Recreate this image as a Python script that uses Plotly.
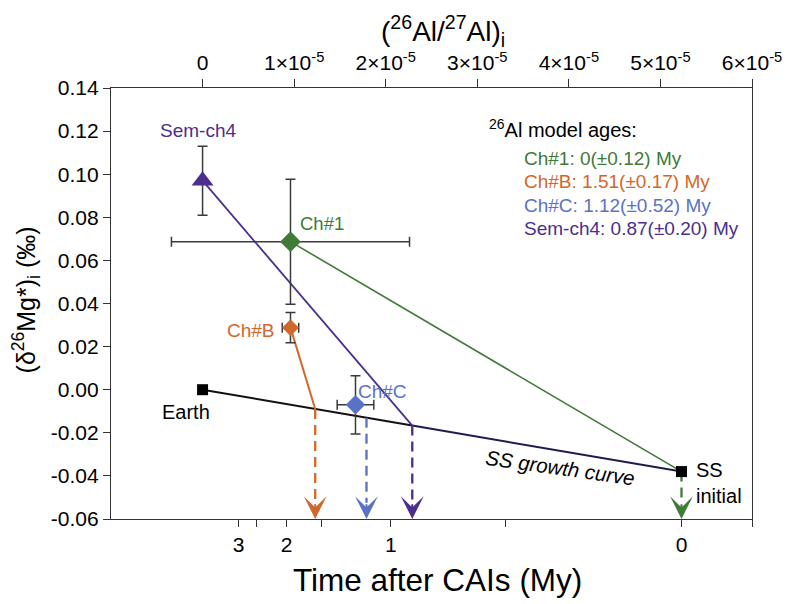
import numpy as np
import plotly.graph_objects as go

# ---------------- data ----------------
# chondrule points: (26Al/27Al)i , (d26Mg*)i
names = ["Sem-ch4", "Ch#1", "Ch#B", "Ch#C"]
al_ratio = [0.0, 0.96e-5, 0.96e-5, 1.67e-5]
dmg = [0.097, 0.0687, 0.0288, -0.007]
err_y = [0.016, 0.029, 0.007, 0.0135]
err_x = [0.0, 1.30e-5, 0.09e-5, 0.20e-5]
colors = ["#4b2e8e", "#3f7a36", "#d2672b", "#5a72c6"]
symbols = ["triangle-up", "diamond", "diamond", "diamond"]
msizes = [19, 16, 13, 15]

# SS growth curve end members
earth_ratio, earth_dmg = 0.0, 0.0
ss_ratio, ss_dmg = 5.23e-5, -0.038

# model-age intersections with the growth curve ((26Al/27Al) value)
inter_names = ["Ch#B", "Ch#C", "Sem-ch4", "Ch#1"]
inter_ratio = [1.23e-5, 1.79e-5, 2.29e-5, 5.23e-5]
inter_colors = ["#d2672b", "#5a72c6", "#4b2e8e", "#3f7a36"]

# model ages text
age_labels = ["Ch#1: 0(±0.12) My", "Ch#B: 1.51(±0.17) My",
              "Ch#C: 1.12(±0.52) My", "Sem-ch4: 0.87(±0.20) My"]
age_colors = ["#3f7a36", "#d2672b", "#5a72c6", "#4b2e8e"]

# axes
top_ticks = [0, 1e-5, 2e-5, 3e-5, 4e-5, 5e-5, 6e-5]
top_labels = ["0"] + ["%d×10<sup>-5</sup>" % i for i in range(1, 7)]
time_ticks = [3, 2.5, 2, 1.5, 1, 0.5, 0, None]
time_tick_ratio = [0.393e-5, 0.593e-5, 0.918e-5, 1.304e-5, 2.055e-5, 3.31e-5, 5.23e-5, 6e-5]
time_labels = ["3", "", "2", "", "1", "", "0", ""]
y_ticks = [-0.06, -0.04, -0.02, 0.0, 0.02, 0.04, 0.06, 0.08, 0.10, 0.12, 0.14]
y_labels = ["-0.06", "-0.04", "-0.02", "0.00", "0.02", "0.04", "0.06",
            "0.08", "0.10", "0.12", "0.14"]

FONT = "Helvetica, 'Liberation Sans', Arial, sans-serif"
XR = [-1e-5, 6e-5]
YR = [-0.06, 0.14]

def growth(r):
    return float(np.interp(r, [earth_ratio, ss_ratio], [earth_dmg, ss_dmg]))

fig = go.Figure()

# growth curve
fig.add_trace(go.Scatter(x=[earth_ratio, inter_ratio[2]], y=[earth_dmg, growth(inter_ratio[2])],
                         mode="lines", line=dict(color="#111111", width=2), showlegend=False))
fig.add_trace(go.Scatter(x=[inter_ratio[2], ss_ratio], y=[growth(inter_ratio[2]), ss_dmg],
                         mode="lines", line=dict(color="#1f1b50", width=2), showlegend=False))

# lines from chondrules
fig.add_trace(go.Scatter(x=[al_ratio[0], inter_ratio[2]], y=[dmg[0], growth(inter_ratio[2])],
                         mode="lines", line=dict(color=colors[0], width=1.8), showlegend=False))
fig.add_trace(go.Scatter(x=[al_ratio[1], ss_ratio], y=[dmg[1], ss_dmg],
                         mode="lines", line=dict(color=colors[1], width=1.6), showlegend=False))
fig.add_trace(go.Scatter(x=[al_ratio[2], inter_ratio[0]], y=[dmg[2], growth(inter_ratio[0])],
                         mode="lines", line=dict(color=colors[2], width=2), showlegend=False))

# dashed drop lines with arrowheads
arrow_top = -0.0525
for r, c in zip(inter_ratio, inter_colors):
    y0 = growth(r)
    fig.add_trace(go.Scatter(x=[r, r], y=[y0, arrow_top], mode="lines",
                             line=dict(color=c, width=2.3, dash="10px,6px"),
                             showlegend=False))
    fig.add_annotation(x=r, y=YR[0], ax=r, ay=arrow_top, xref="x", yref="y",
                       axref="x", ayref="y", text="", showarrow=True,
                       arrowhead=3, arrowsize=1.9, arrowwidth=2, arrowcolor=c,
                       standoff=0, startstandoff=0)

# data points with error bars
for i in range(4):
    fig.add_trace(go.Scatter(
        x=[al_ratio[i]], y=[dmg[i]], mode="markers",
        marker=dict(symbol=symbols[i], size=msizes[i], color=colors[i]),
        error_y=dict(type="data", array=[err_y[i]], color="#3a3a3a", thickness=1.5, width=5),
        error_x=dict(type="data", array=[err_x[i]], color="#3a3a3a", thickness=1.5, width=5,
                     visible=err_x[i] > 0),
        showlegend=False))

# Earth and SS initial squares
fig.add_trace(go.Scatter(x=[earth_ratio, ss_ratio], y=[earth_dmg, ss_dmg], mode="markers",
                         marker=dict(symbol="square", size=11, color="black"),
                         showlegend=False))

# hidden trace for top axis
fig.add_trace(go.Scatter(x=[0], y=[0], xaxis="x2", mode="markers",
                         marker=dict(opacity=0), hoverinfo="skip", showlegend=False))

def lab(x, y, t, c, size=19, xanchor="center", **kw):
    fig.add_annotation(x=x, y=y, text=t, showarrow=False, xanchor=xanchor, yanchor="middle",
                       font=dict(family=FONT, size=size, color=c), **kw)

lab(-0.05e-5, 0.1205, "Sem-ch4", colors[0], 19)
lab(1.30e-5, 0.0769, "Ch#1", colors[1], 18.5)
lab(0.81e-5, 0.0275, "Ch#B", colors[2], 19, xanchor="right")
lab(1.97e-5, -0.0009, "Ch#C", colors[3], 19)
lab(-0.18e-5, -0.0102, "Earth", "black", 20)
lab(5.37e-5, -0.0373, "SS", "black", 20, xanchor="left")
lab(5.37e-5, -0.0493, "initial", "black", 20, xanchor="left")
lab(3.9e-5, -0.0362, "<i>SS growth curve</i>", "black", 20.5, textangle=8)

# model ages block
lab(3.11e-5, 0.1214, "<sup>26</sup>Al model ages:", "black", 20, xanchor="left")
age_y = [0.1075, 0.0964, 0.0857, 0.0750]
for t, c, yy in zip(age_labels, age_colors, age_y):
    lab(3.49e-5, yy, t, c, 19, xanchor="left")

# axis titles
fig.add_annotation(xref="paper", yref="paper", x=0.518, y=1.184, showarrow=False,
                   text="(<sup>26</sup>Al/<sup>27</sup>Al)<sub>i</sub>",
                   font=dict(family=FONT, size=28, color="black"), xanchor="center", yanchor="top")
fig.add_annotation(xref="paper", yref="paper", x=0.51, y=-0.141, showarrow=False,
                   text="Time after CAIs (My)",
                   font=dict(family=FONT, size=31.5, color="black"), xanchor="center", yanchor="middle")
fig.add_annotation(xref="paper", yref="paper", x=-0.132, y=0.508, showarrow=False,
                   text="(δ<sup>26</sup>Mg*)<sub>i</sub> (‰)", textangle=-90,
                   font=dict(family=FONT, size=25, color="black"), xanchor="center", yanchor="middle")

axis_common = dict(showgrid=False, zeroline=False, showline=True, linecolor="#333333",
                   linewidth=1.3, ticks="outside", tickcolor="#333333", tickwidth=1.3,
                   automargin=False,
                   tickfont=dict(family=FONT, size=21, color="black"))

# page body has an 8px margin, so the figure is offset by 8px in the window
fig.update_layout(
    width=788, height=596,
    margin=dict(l=103, r=44, t=80, b=85),
    paper_bgcolor="white", plot_bgcolor="white",
    xaxis=dict(range=XR, tickmode="array", tickvals=time_tick_ratio, ticktext=time_labels,
               ticklen=7, **axis_common),
    xaxis2=dict(range=XR, overlaying="x", side="top", tickmode="array", tickvals=top_ticks,
                ticktext=top_labels, ticklen=8, **axis_common),
    yaxis=dict(range=YR, tickmode="array", tickvals=y_ticks, ticktext=y_labels, ticklen=7,
               mirror=True, **axis_common),
)

fig.write_html("out.html")
